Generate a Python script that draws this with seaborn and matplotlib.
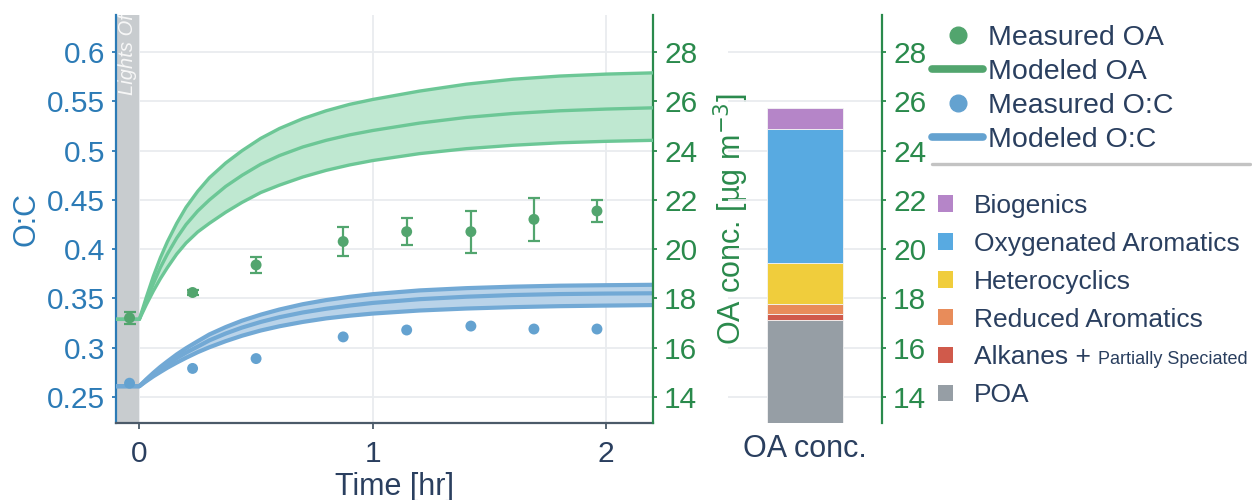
import matplotlib
matplotlib.use("Agg")
import matplotlib.pyplot as plt
import seaborn as sns
import pandas as pd
from matplotlib.lines import Line2D
from matplotlib.patches import Patch

# ---------------- data ----------------
meas_t = [-0.042, 0.228, 0.50, 0.873, 1.145, 1.42, 1.69, 1.96]
meas_oa = [17.21, 18.24, 19.36, 20.31, 20.71, 20.71, 21.21, 21.55]
meas_oa_err = [0.24, 0.10, 0.31, 0.57, 0.55, 0.86, 0.86, 0.43]
meas_oc = [0.264, 0.279, 0.289, 0.311, 0.318, 0.322, 0.319, 0.319]

model_t = [-0.1, 0.0, 0.03, 0.06, 0.09, 0.12, 0.16, 0.2, 0.25, 0.3, 0.37, 0.44,
           0.52, 0.6, 0.7, 0.8, 0.9, 1.0, 1.2, 1.4, 1.6, 1.8, 2.0, 2.2]
oa_mid = [17.15, 17.15, 17.9, 18.6, 19.25, 19.8, 20.45, 21.0, 21.55, 22.0, 22.55, 23.0,
          23.45, 23.8, 24.15, 24.42, 24.64, 24.82, 25.12, 25.35, 25.51, 25.62, 25.69, 25.74]
oa_hi = [17.15, 17.15, 18.05, 18.9, 19.65, 20.3, 21.05, 21.7, 22.35, 22.9, 23.5, 24.0,
         24.5, 24.9, 25.3, 25.62, 25.88, 26.08, 26.42, 26.7, 26.9, 27.03, 27.11, 27.16]
oa_lo = [17.15, 17.15, 17.75, 18.3, 18.8, 19.25, 19.8, 20.25, 20.7, 21.05, 21.5, 21.9,
         22.3, 22.6, 22.93, 23.2, 23.42, 23.6, 23.88, 24.08, 24.22, 24.32, 24.38, 24.42]
oc_mid = [0.261, 0.261, 0.267, 0.2728, 0.278, 0.283, 0.2894, 0.295, 0.3012, 0.3075, 0.3145, 0.3205,
          0.3262, 0.331, 0.3358, 0.3396, 0.3428, 0.3455, 0.3493, 0.3518, 0.3535, 0.3545, 0.355, 0.3553]
oc_hi = [0.261, 0.261, 0.268, 0.2745, 0.2806, 0.2861, 0.2932, 0.2995, 0.3066, 0.3135, 0.321, 0.3275,
         0.3336, 0.3388, 0.3442, 0.3484, 0.3517, 0.3544, 0.3582, 0.3605, 0.362, 0.363, 0.3635, 0.3639]
oc_lo = [0.261, 0.261, 0.2661, 0.271, 0.2754, 0.2797, 0.2849, 0.2898, 0.2955, 0.3005, 0.3067, 0.3122,
         0.3175, 0.3218, 0.3262, 0.3298, 0.3325, 0.3347, 0.3378, 0.3398, 0.3412, 0.3422, 0.3428, 0.3433]

bar_category = "OA conc."
comp_names = ["POA", "Alkanes +", "Reduced Aromatics", "Heterocyclics",
              "Oxygenated Aromatics", "Biogenics"]
comp_values = [17.14, 0.23, 0.42, 1.64, 5.47, 0.83]
comp_colors = ["#969ea5", "#d05a4b", "#e88c5a", "#f0cd3c", "#58aae1", "#b585c8"]

oc_ticks = [0.25, 0.3, 0.35, 0.4, 0.45, 0.5, 0.55, 0.6]
oa_ticks = [14, 16, 18, 20, 22, 24, 26, 28]
time_ticks = [0, 1, 2]

# ---------------- style ----------------
sns.set_theme(style="white")
plt.rcParams["font.family"] = ["Liberation Sans", "DejaVu Sans"]

NAVY = "#2a3f5f"
BLUE_AX = "#2c7bb6"
GREEN_AX = "#2a8a4c"
GREEN_DOT = "#52a56e"
GREEN_LINE = "#6cc796"
GREEN_FILL = "#bfe8d1"
BLUE_DOT = "#64a2d0"
BLUE_LINE = "#72a9d5"
BLUE_FILL = "#b9d3e9"
GRID = "#e9ecef"
TICK_FS = 21.5

W, H = 1252, 500
fig = plt.figure(figsize=(W / 100, H / 100), dpi=100)

ax = fig.add_axes([116 / W, 77 / H, 537 / W, 408 / H])
ax2 = ax.twinx()
bx = fig.add_axes([728 / W, 77 / H, 154 / W, 408 / H])
bx.set_facecolor("none")

OC_LIM = (0.2236, 0.6378)
OA_LIM = (12.94, 29.51)

# --- left axis (O:C) ---
ax.set_xlim(-0.1, 2.2)
ax.set_ylim(*OC_LIM)
ax.set_axisbelow(True)
ax.grid(True, color=GRID, lw=1.3)
ax.axvspan(-0.1, 0.0, color="#c8cccf", zorder=0.6, lw=0)
ax.text(-0.05, 0.5567, "Lights Off", rotation=90, ha="center", va="bottom",
        fontsize=14.5, style="italic", color="#f7f7f7", clip_on=True, zorder=1)

ax.fill_between(model_t, oc_lo, oc_hi, color=BLUE_FILL, lw=0, zorder=2)
n = len(model_t)
df_oc = pd.DataFrame({"t": model_t * 3,
                      "oc": oc_lo + oc_mid + oc_hi,
                      "curve": ["lo"] * n + ["mid"] * n + ["hi"] * n})
sns.lineplot(data=df_oc, x="t", y="oc", units="curve", estimator=None, sort=False,
             color=BLUE_LINE, lw=3, ax=ax, legend=False, zorder=3)
sns.scatterplot(x=meas_t, y=meas_oc, color=BLUE_DOT, s=62, edgecolor="none", ax=ax, zorder=4)

ax.set_xticks(time_ticks)
ax.set_xticklabels([str(t) for t in time_ticks])
ax.set_yticks(oc_ticks)
ax.set_yticklabels([f"{v:g}" for v in oc_ticks])
ax.tick_params(axis="x", colors="#4b5a69", labelcolor=NAVY, labelsize=TICK_FS,
               length=4, width=1.3, pad=8.5, direction="out", bottom=True)
ax.tick_params(axis="y", colors=BLUE_AX, labelcolor=BLUE_AX, labelsize=TICK_FS,
               length=3, width=1.3, pad=5, direction="out", left=True)
for s in ["top", "right"]:
    ax.spines[s].set_visible(False)
ax.spines["left"].set_color(BLUE_AX)
ax.spines["left"].set_linewidth(1.6)
ax.spines["bottom"].set_color("#4b5a69")
ax.spines["bottom"].set_linewidth(1.6)
ax.set_ylabel("O:C", fontsize=22, color=BLUE_AX)
ax.yaxis.set_label_coords(-0.166, 0.5)
ax.yaxis.label.set(va="center", ha="center")
ax.set_xlabel("Time [hr]", fontsize=22, color=NAVY)
ax.xaxis.set_label_coords(0.518, -0.158)
ax.xaxis.label.set(va="center", ha="center")

# --- right axis (OA) ---
ax2.set_ylim(*OA_LIM)
ax2.grid(False)
ax2.fill_between(model_t, oa_lo, oa_hi, color=GREEN_FILL, lw=0, zorder=2)
df_oa = pd.DataFrame({"t": model_t * 3,
                      "oa": oa_lo + oa_mid + oa_hi,
                      "curve": ["lo"] * n + ["mid"] * n + ["hi"] * n})
sns.lineplot(data=df_oa, x="t", y="oa", units="curve", estimator=None, sort=False,
             color=GREEN_LINE, lw=2.4, ax=ax2, legend=False, zorder=3)
ax2.errorbar(meas_t, meas_oa, yerr=meas_oa_err, fmt="none", ecolor=GREEN_DOT,
             elinewidth=1.6, capsize=4, capthick=1.6, zorder=4)
sns.scatterplot(x=meas_t, y=meas_oa, color=GREEN_DOT, s=62, edgecolor="none", ax=ax2, zorder=5)
ax2.set_yticks(oa_ticks)
ax2.set_yticklabels([str(v) for v in oa_ticks])
ax2.tick_params(axis="y", colors=GREEN_AX, labelcolor=GREEN_AX, labelsize=TICK_FS,
                length=3, width=1.3, pad=5, direction="out", right=True)
for s in ["top", "left", "bottom"]:
    ax2.spines[s].set_visible(False)
ax2.spines["right"].set_color(GREEN_AX)
ax2.spines["right"].set_linewidth(1.6)
ax2.set_ylabel("OA conc. [µg m$^{-3}$]", fontsize=22, color=GREEN_AX, rotation=90)
ax2.yaxis.set_label_coords((731 - 116) / 537, 0.5)
ax2.yaxis.label.set(va="center", ha="center")

# --- stacked bar axis ---
bx.set_xlim(-0.5, 0.5)
bx.set_ylim(*OA_LIM)
bx.set_axisbelow(True)
bottom = 0.0
for name, val, col in zip(comp_names, comp_values, comp_colors):
    bx.bar([0], [val], bottom=bottom, width=0.49, color=col, edgecolor="#f4f4f4",
           lw=0.6, label=name, zorder=2)
    bottom += val
bx.set_yticks(oa_ticks)
bx.set_yticklabels([str(v) for v in oa_ticks])
bx.yaxis.tick_right()
bx.grid(True, axis="y", color=GRID, lw=1.3)
bx.grid(False, axis="x")
bx.set_xticks([0])
bx.set_xticklabels([bar_category])
bx.tick_params(axis="x", length=0, labelsize=22, labelcolor=NAVY, pad=8)
bx.tick_params(axis="y", colors=GREEN_AX, labelcolor=GREEN_AX, labelsize=TICK_FS,
               length=3, width=1.3, pad=5, right=True, left=False)
for s in ["top", "left", "bottom"]:
    bx.spines[s].set_visible(False)
bx.spines["right"].set_color(GREEN_AX)
bx.spines["right"].set_linewidth(1.6)

# --- legends ---
h_top = [Line2D([], [], marker="o", ls="none", color=GREEN_DOT, markersize=12),
         Line2D([], [], color=GREEN_DOT, lw=5.5),
         Line2D([], [], marker="o", ls="none", color=BLUE_DOT, markersize=12),
         Line2D([], [], color=BLUE_DOT, lw=5.5)]
l_top = ["Measured OA", "Modeled OA", "Measured O:C", "Modeled O:C"]
leg1 = fig.legend(h_top, l_top, loc="upper left", bbox_to_anchor=(932 / W, 1 - 25 / H),
                  bbox_transform=fig.transFigure, frameon=False, fontsize=20.5,
                  handlelength=1.8, handletextpad=0.15, labelspacing=0.28,
                  borderpad=0, borderaxespad=0)
for t in leg1.get_texts():
    t.set_color(NAVY)

fig.add_artist(Line2D([932 / W, 1250 / W], [1 - 164 / H, 1 - 164 / H],
                      transform=fig.transFigure, color="#c3c3c3", lw=2.4))

order = [5, 4, 3, 2, 1, 0]
h_bot = [Patch(facecolor=comp_colors[i], edgecolor="none") for i in order]
l_bot = [comp_names[i] for i in order]
leg2 = fig.legend(h_bot, l_bot, loc="upper left", bbox_to_anchor=(938 / W, 1 - 194 / H),
                  bbox_transform=fig.transFigure, frameon=False, fontsize=19,
                  handlelength=0.58, handleheight=0.58, handletextpad=0.78,
                  labelspacing=0.525, borderpad=0, borderaxespad=0)
for t in leg2.get_texts():
    t.set_color(NAVY)

fig.canvas.draw()
alk = [t for t in leg2.get_texts() if t.get_text() == "Alkanes +"][0]
bb = alk.get_window_extent()
fig.text((bb.x1 + 7) / W, (bb.y0 + 1.5) / H, "Partially Speciated", fontsize=13,
         color=NAVY, ha="left", va="bottom")

fig.savefig("out.png", dpi=100)
